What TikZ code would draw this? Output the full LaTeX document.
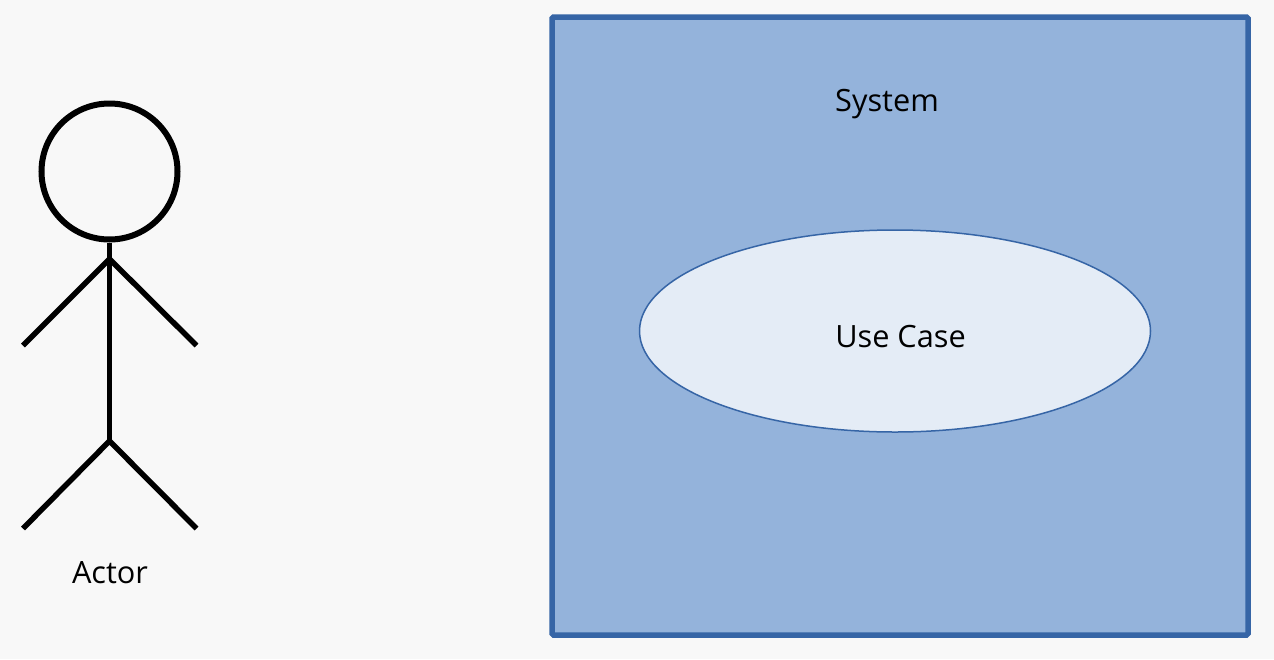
\documentclass[tikz,border=0pt]{standalone}
\usepackage{fontspec}
\setmainfont{Open Sans}
\usetikzlibrary{positioning, shapes.geometric}
\definecolor{pagebg}{RGB}{248,248,248}
\definecolor{sysfill}{RGB}{148,179,219}
\definecolor{sysline}{RGB}{54,101,166}
\definecolor{casefill}{RGB}{228,236,246}
\tikzset{label text/.style={font=\fontsize{30.7pt}{36pt}\selectfont, text=black, inner sep=0pt, anchor=base},
	limb/.style={line width=5.5pt, line cap=butt, line join=miter},}

\begin{document}
\begin{tikzpicture}[x=1pt, y=-1pt]
	\useasboundingbox[fill=pagebg] (0,0) rectangle (1274,659);
	% System
	\node[draw=sysline, fill=sysfill, line width=5.5pt, rounded corners=1.5pt, minimum width=696pt, minimum height=618pt, inner sep=0pt] (system) at (900,326) {};
	\node[label text] (systemlabel) at (887,111) {System};
	\node[ellipse, draw=sysline, fill=casefill, line width=1.5pt, minimum width=511pt, minimum height=202pt, inner sep=0pt] (usecase) at (895,331) {};
	\node[label text] (usecaselabel) at (900.5,347) {Use Case};
	% Actor
	\node[circle, draw=black, line width=6pt, minimum size=136pt, inner sep=0pt] (head) at (109.5,171.5) {};
	\coordinate (shoulder) at (109.5,259);
	\coordinate (hip) at (109.5,441);
	\coordinate (lefthand) at (23,345.5);
	\coordinate (righthand) at (196.5,345.5);
	\coordinate (leftfoot) at (23,528.5);
	\coordinate (rightfoot) at (196.5,528.5);
	\draw[limb] (head.south) -- (hip);
	\draw[limb] (lefthand) -- (shoulder) -- (righthand);
	\draw[limb] (leftfoot) -- (hip) -- (rightfoot);
	\node[label text] (actorlabel) at (110,583) {Actor};
\end{tikzpicture}
\end{document}
